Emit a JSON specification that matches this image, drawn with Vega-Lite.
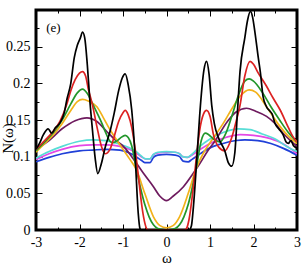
{
"$schema":"https://vega.github.io/schema/vega-lite/v6.json",
"width":261,"height":220,
"autosize":{"type":"none"},
"padding":{"left":36,"top":10,"right":8,"bottom":43},
"config":{"view":{"stroke":"black","strokeWidth":3},
"axis":{"grid":false,"domain":false,"tickColor":"black","tickWidth":1,"labelFont":"Liberation Serif","labelFontSize":14,"labelColor":"black","titleFont":"Liberation Serif","titleFontSize":15,"titleFontWeight":"normal","titleColor":"black"}},
"layer":[
{"data":{"values":[
{"s":"b","x":-3,"y":0.093},{"s":"b","x":-2.7,"y":0.099},{"s":"b","x":-2.4,"y":0.104},{"s":"b","x":-2.0,"y":0.108},{"s":"b","x":-1.7,"y":0.109},{"s":"b","x":-1.4,"y":0.11},{"s":"b","x":-1.07,"y":0.109},{"s":"b","x":-0.85,"y":0.105},{"s":"b","x":-0.7,"y":0.1},{"s":"b","x":-0.58,"y":0.095},{"s":"b","x":-0.5,"y":0.092},{"s":"b","x":-0.38,"y":0.092},{"s":"b","x":-0.3,"y":0.099},{"s":"b","x":-0.2,"y":0.102},{"s":"b","x":0,"y":0.103},{"s":"b","x":0.2,"y":0.102},{"s":"b","x":0.3,"y":0.1},{"s":"b","x":0.38,"y":0.094},{"s":"b","x":0.5,"y":0.093},{"s":"b","x":0.58,"y":0.096},{"s":"b","x":0.75,"y":0.103},{"s":"b","x":1.0,"y":0.112},{"s":"b","x":1.3,"y":0.118},{"s":"b","x":1.6,"y":0.122},{"s":"b","x":1.8,"y":0.123},{"s":"b","x":2.1,"y":0.122},{"s":"b","x":2.4,"y":0.118},{"s":"b","x":2.7,"y":0.111},{"s":"b","x":3,"y":0.102},
{"s":"m","x":-3,"y":0.096},{"s":"m","x":-2.7,"y":0.104},{"s":"m","x":-2.4,"y":0.11},{"s":"m","x":-2.0,"y":0.115},{"s":"m","x":-1.7,"y":0.116},{"s":"m","x":-1.4,"y":0.116},{"s":"m","x":-1.07,"y":0.114},{"s":"m","x":-0.85,"y":0.11},{"s":"m","x":-0.7,"y":0.105},{"s":"m","x":-0.58,"y":0.1},{"s":"m","x":-0.48,"y":0.097},{"s":"m","x":-0.38,"y":0.097},{"s":"m","x":-0.3,"y":0.103},{"s":"m","x":-0.2,"y":0.105},{"s":"m","x":0,"y":0.106},{"s":"m","x":0.2,"y":0.106},{"s":"m","x":0.3,"y":0.104},{"s":"m","x":0.37,"y":0.1},{"s":"m","x":0.48,"y":0.099},{"s":"m","x":0.58,"y":0.102},{"s":"m","x":0.75,"y":0.109},{"s":"m","x":1.0,"y":0.118},{"s":"m","x":1.3,"y":0.125},{"s":"m","x":1.7,"y":0.13},{"s":"m","x":2.0,"y":0.129},{"s":"m","x":2.3,"y":0.126},{"s":"m","x":2.6,"y":0.12},{"s":"m","x":2.8,"y":0.113},{"s":"m","x":3,"y":0.104},
{"s":"c","x":-3,"y":0.098},{"s":"c","x":-2.7,"y":0.107},{"s":"c","x":-2.4,"y":0.114},{"s":"c","x":-2.0,"y":0.121},{"s":"c","x":-1.7,"y":0.123},{"s":"c","x":-1.4,"y":0.122},{"s":"c","x":-1.07,"y":0.117},{"s":"c","x":-0.85,"y":0.112},{"s":"c","x":-0.7,"y":0.107},{"s":"c","x":-0.58,"y":0.101},{"s":"c","x":-0.48,"y":0.097},{"s":"c","x":-0.38,"y":0.097},{"s":"c","x":-0.3,"y":0.103},{"s":"c","x":-0.2,"y":0.106},{"s":"c","x":0,"y":0.107},{"s":"c","x":0.2,"y":0.106},{"s":"c","x":0.3,"y":0.104},{"s":"c","x":0.37,"y":0.1},{"s":"c","x":0.48,"y":0.099},{"s":"c","x":0.58,"y":0.103},{"s":"c","x":0.75,"y":0.113},{"s":"c","x":1.0,"y":0.124},{"s":"c","x":1.3,"y":0.133},{"s":"c","x":1.65,"y":0.138},{"s":"c","x":1.92,"y":0.137},{"s":"c","x":2.2,"y":0.131},{"s":"c","x":2.5,"y":0.124},{"s":"c","x":2.76,"y":0.114},{"s":"c","x":3,"y":0.107},
{"s":"p","x":-3,"y":0.11},{"s":"p","x":-2.7,"y":0.122},{"s":"p","x":-2.4,"y":0.138},{"s":"p","x":-2.1,"y":0.149},{"s":"p","x":-1.83,"y":0.153},{"s":"p","x":-1.6,"y":0.148},{"s":"p","x":-1.37,"y":0.134},{"s":"p","x":-1.2,"y":0.124},{"s":"p","x":-0.99,"y":0.114},{"s":"p","x":-0.85,"y":0.104},{"s":"p","x":-0.69,"y":0.091},{"s":"p","x":-0.5,"y":0.075},{"s":"p","x":-0.3,"y":0.059},{"s":"p","x":-0.15,"y":0.046},{"s":"p","x":0,"y":0.04},{"s":"p","x":0.15,"y":0.046},{"s":"p","x":0.39,"y":0.059},{"s":"p","x":0.6,"y":0.076},{"s":"p","x":0.77,"y":0.091},{"s":"p","x":0.95,"y":0.108},{"s":"p","x":1.1,"y":0.12},{"s":"p","x":1.4,"y":0.148},{"s":"p","x":1.6,"y":0.161},{"s":"p","x":1.84,"y":0.166},{"s":"p","x":2.05,"y":0.162},{"s":"p","x":2.3,"y":0.155},{"s":"p","x":2.5,"y":0.145},{"s":"p","x":2.68,"y":0.132},{"s":"p","x":2.85,"y":0.122},{"s":"p","x":3,"y":0.114},
{"s":"o","x":-3,"y":0.106},{"s":"o","x":-2.8,"y":0.118},{"s":"o","x":-2.6,"y":0.13},{"s":"o","x":-2.4,"y":0.145},{"s":"o","x":-2.2,"y":0.163},{"s":"o","x":-2.05,"y":0.175},{"s":"o","x":-1.93,"y":0.178},{"s":"o","x":-1.8,"y":0.176},{"s":"o","x":-1.6,"y":0.168},{"s":"o","x":-1.45,"y":0.153},{"s":"o","x":-1.3,"y":0.137},{"s":"o","x":-1.15,"y":0.123},{"s":"o","x":-1.0,"y":0.11},{"s":"o","x":-0.85,"y":0.097},{"s":"o","x":-0.69,"y":0.082},{"s":"o","x":-0.5,"y":0.05},{"s":"o","x":-0.3,"y":0.018},{"s":"o","x":-0.15,"y":0.006},{"s":"o","x":0,"y":0.003},{"s":"o","x":0.15,"y":0.006},{"s":"o","x":0.3,"y":0.018},{"s":"o","x":0.5,"y":0.05},{"s":"o","x":0.69,"y":0.085},{"s":"o","x":0.85,"y":0.105},{"s":"o","x":1.07,"y":0.125},{"s":"o","x":1.3,"y":0.145},{"s":"o","x":1.5,"y":0.165},{"s":"o","x":1.7,"y":0.183},{"s":"o","x":1.9,"y":0.191},{"s":"o","x":2.05,"y":0.188},{"s":"o","x":2.3,"y":0.168},{"s":"o","x":2.6,"y":0.142},{"s":"o","x":2.8,"y":0.128},{"s":"o","x":3,"y":0.118},
{"s":"g","x":-3,"y":0.108},{"s":"g","x":-2.8,"y":0.12},{"s":"g","x":-2.6,"y":0.133},{"s":"g","x":-2.4,"y":0.15},{"s":"g","x":-2.2,"y":0.172},{"s":"g","x":-2.05,"y":0.187},{"s":"g","x":-1.93,"y":0.192},{"s":"g","x":-1.82,"y":0.186},{"s":"g","x":-1.7,"y":0.172},{"s":"g","x":-1.6,"y":0.16},{"s":"g","x":-1.49,"y":0.146},{"s":"g","x":-1.4,"y":0.133},{"s":"g","x":-1.3,"y":0.121},{"s":"g","x":-1.24,"y":0.119},{"s":"g","x":-1.15,"y":0.121},{"s":"g","x":-1.05,"y":0.126},{"s":"g","x":-0.95,"y":0.129},{"s":"g","x":-0.88,"y":0.126},{"s":"g","x":-0.8,"y":0.115},{"s":"g","x":-0.7,"y":0.085},{"s":"g","x":-0.6,"y":0.058},{"s":"g","x":-0.5,"y":0.035},{"s":"g","x":-0.4,"y":0.018},{"s":"g","x":-0.3,"y":0.007},{"s":"g","x":-0.2,"y":0.002},{"s":"g","x":0,"y":0},{"s":"g","x":0.2,"y":0.002},{"s":"g","x":0.3,"y":0.007},{"s":"g","x":0.4,"y":0.018},{"s":"g","x":0.5,"y":0.035},{"s":"g","x":0.6,"y":0.06},{"s":"g","x":0.7,"y":0.09},{"s":"g","x":0.8,"y":0.122},{"s":"g","x":0.89,"y":0.132},{"s":"g","x":0.97,"y":0.13},{"s":"g","x":1.1,"y":0.123},{"s":"g","x":1.23,"y":0.12},{"s":"g","x":1.35,"y":0.13},{"s":"g","x":1.5,"y":0.155},{"s":"g","x":1.65,"y":0.183},{"s":"g","x":1.8,"y":0.203},{"s":"g","x":1.9,"y":0.206},{"s":"g","x":2.0,"y":0.203},{"s":"g","x":2.2,"y":0.188},{"s":"g","x":2.4,"y":0.168},{"s":"g","x":2.6,"y":0.15},{"s":"g","x":2.8,"y":0.133},{"s":"g","x":3,"y":0.12},
{"s":"r","x":-3,"y":0.11},{"s":"r","x":-2.8,"y":0.122},{"s":"r","x":-2.6,"y":0.135},{"s":"r","x":-2.45,"y":0.148},{"s":"r","x":-2.3,"y":0.17},{"s":"r","x":-2.2,"y":0.19},{"s":"r","x":-2.1,"y":0.205},{"s":"r","x":-2.0,"y":0.214},{"s":"r","x":-1.93,"y":0.216},{"s":"r","x":-1.86,"y":0.21},{"s":"r","x":-1.8,"y":0.193},{"s":"r","x":-1.7,"y":0.17},{"s":"r","x":-1.6,"y":0.141},{"s":"r","x":-1.5,"y":0.115},{"s":"r","x":-1.41,"y":0.104},{"s":"r","x":-1.3,"y":0.11},{"s":"r","x":-1.2,"y":0.128},{"s":"r","x":-1.1,"y":0.148},{"s":"r","x":-1.0,"y":0.16},{"s":"r","x":-0.95,"y":0.163},{"s":"r","x":-0.88,"y":0.157},{"s":"r","x":-0.8,"y":0.14},{"s":"r","x":-0.72,"y":0.11},{"s":"r","x":-0.64,"y":0.07},{"s":"r","x":-0.56,"y":0.03},{"s":"r","x":-0.5,"y":0.01},{"s":"r","x":-0.45,"y":0.001},{"s":"r","x":-0.42,"y":0},{"s":"r","x":0.42,"y":0},{"s":"r","x":0.46,"y":0.002},{"s":"r","x":0.52,"y":0.015},{"s":"r","x":0.6,"y":0.05},{"s":"r","x":0.68,"y":0.095},{"s":"r","x":0.76,"y":0.135},{"s":"r","x":0.85,"y":0.158},{"s":"r","x":0.92,"y":0.163},{"s":"r","x":1.0,"y":0.155},{"s":"r","x":1.08,"y":0.13},{"s":"r","x":1.2,"y":0.113},{"s":"r","x":1.34,"y":0.108},{"s":"r","x":1.45,"y":0.118},{"s":"r","x":1.53,"y":0.132},{"s":"r","x":1.6,"y":0.148},{"s":"r","x":1.69,"y":0.17},{"s":"r","x":1.8,"y":0.21},{"s":"r","x":1.92,"y":0.23},{"s":"r","x":2.0,"y":0.226},{"s":"r","x":2.1,"y":0.215},{"s":"r","x":2.3,"y":0.196},{"s":"r","x":2.45,"y":0.18},{"s":"r","x":2.61,"y":0.164},{"s":"r","x":2.8,"y":0.14},{"s":"r","x":2.9,"y":0.128},{"s":"r","x":3,"y":0.12},
{"s":"k","x":-3,"y":0.11},{"s":"k","x":-2.92,"y":0.118},{"s":"k","x":-2.83,"y":0.13},{"s":"k","x":-2.72,"y":0.138},{"s":"k","x":-2.64,"y":0.132},{"s":"k","x":-2.56,"y":0.139},{"s":"k","x":-2.45,"y":0.146},{"s":"k","x":-2.35,"y":0.16},{"s":"k","x":-2.29,"y":0.178},{"s":"k","x":-2.2,"y":0.2},{"s":"k","x":-2.12,"y":0.235},{"s":"k","x":-2.05,"y":0.252},{"s":"k","x":-1.98,"y":0.262},{"s":"k","x":-1.93,"y":0.27},{"s":"k","x":-1.88,"y":0.262},{"s":"k","x":-1.82,"y":0.225},{"s":"k","x":-1.76,"y":0.175},{"s":"k","x":-1.7,"y":0.135},{"s":"k","x":-1.64,"y":0.098},{"s":"k","x":-1.58,"y":0.077},{"s":"k","x":-1.5,"y":0.09},{"s":"k","x":-1.4,"y":0.115},{"s":"k","x":-1.3,"y":0.134},{"s":"k","x":-1.2,"y":0.16},{"s":"k","x":-1.1,"y":0.19},{"s":"k","x":-1.02,"y":0.207},{"s":"k","x":-0.95,"y":0.213},{"s":"k","x":-0.88,"y":0.198},{"s":"k","x":-0.8,"y":0.164},{"s":"k","x":-0.72,"y":0.099},{"s":"k","x":-0.65,"y":0.023},{"s":"k","x":-0.61,"y":0.002},{"s":"k","x":-0.58,"y":0},{"s":"k","x":0.52,"y":0},{"s":"k","x":0.57,"y":0.005},{"s":"k","x":0.63,"y":0.04},{"s":"k","x":0.7,"y":0.1},{"s":"k","x":0.78,"y":0.17},{"s":"k","x":0.86,"y":0.218},{"s":"k","x":0.92,"y":0.23},{"s":"k","x":0.98,"y":0.212},{"s":"k","x":1.04,"y":0.17},{"s":"k","x":1.1,"y":0.145},{"s":"k","x":1.2,"y":0.125},{"s":"k","x":1.34,"y":0.108},{"s":"k","x":1.42,"y":0.092},{"s":"k","x":1.5,"y":0.087},{"s":"k","x":1.57,"y":0.105},{"s":"k","x":1.63,"y":0.16},{"s":"k","x":1.69,"y":0.216},{"s":"k","x":1.8,"y":0.262},{"s":"k","x":1.86,"y":0.285},{"s":"k","x":1.93,"y":0.298},{"s":"k","x":1.98,"y":0.29},{"s":"k","x":2.03,"y":0.271},{"s":"k","x":2.11,"y":0.235},{"s":"k","x":2.16,"y":0.214},{"s":"k","x":2.22,"y":0.182},{"s":"k","x":2.3,"y":0.168},{"s":"k","x":2.38,"y":0.162},{"s":"k","x":2.43,"y":0.158},{"s":"k","x":2.49,"y":0.146},{"s":"k","x":2.58,"y":0.138},{"s":"k","x":2.68,"y":0.13},{"s":"k","x":2.75,"y":0.12},{"s":"k","x":2.8,"y":0.118},{"s":"k","x":2.86,"y":0.122},{"s":"k","x":2.92,"y":0.115},{"s":"k","x":3,"y":0.112}
]},
"mark":{"type":"line","interpolate":"monotone","strokeWidth":1.7,"clip":true},
"encoding":{
"x":{"field":"x","type":"quantitative","scale":{"domain":[-3,3],"nice":false,"zero":false},
 "axis":{"orient":"bottom","title":"ω","values":[-3,-2.5,-2,-1.5,-1,-0.5,0,0.5,1,1.5,2,2.5,3],"labelExpr":"datum.value % 1 == 0 ? '' + datum.value : ''","tickSize":{"condition":{"test":"datum.value % 1 == 0","value":-6},"value":-3},"labelPadding":11,"titlePadding":1,"labelFlush":false}},
"y":{"field":"y","type":"quantitative","scale":{"domain":[0,0.3],"nice":false},
 "axis":{"orient":"left","title":"N(ω)","values":[0,0.025,0.05,0.075,0.1,0.125,0.15,0.175,0.2,0.225,0.25,0.275],"labelExpr":"round(datum.value*1000) % 50 == 0 ? format(datum.value,'~g') : ''","tickSize":{"condition":{"test":"round(datum.value*1000) % 50 == 0","value":-6},"value":-3},"labelPadding":12,"titleX":-21,"titleY":128,"labelFlush":false}},
"color":{"field":"s","type":"nominal","sort":["b","m","c","p","o","g","r","k"],"scale":{"domain":["b","m","c","p","o","g","r","k"],"range":["#2040d8","#e448e6","#58ddd6","#6e1a5e","#f2b21a","#22962a","#dc2222","#000000"]},"legend":null}
}},
{"data":{"values":[{"x":-2.6,"y":0.276,"t":"(e)"}]},
"mark":{"type":"text","font":"Liberation Serif","fontSize":13,"color":"black"},
"encoding":{
"x":{"field":"x","type":"quantitative","scale":{"domain":[-3,3],"nice":false,"zero":false},"axis":{"orient":"top","title":null,"values":[-3,-2.5,-2,-1.5,-1,-0.5,0,0.5,1,1.5,2,2.5,3],"labels":false,"tickSize":{"condition":{"test":"datum.value % 1 == 0","value":-6},"value":-3}}},
"y":{"field":"y","type":"quantitative","scale":{"domain":[0,0.3],"nice":false},"axis":{"orient":"right","title":null,"values":[0,0.025,0.05,0.075,0.1,0.125,0.15,0.175,0.2,0.225,0.25,0.275],"labels":false,"tickSize":{"condition":{"test":"round(datum.value*1000) % 50 == 0","value":-6},"value":-3}}},
"text":{"field":"t"}
}}
],
"resolve":{"axis":{"x":"independent","y":"independent"}}
}
